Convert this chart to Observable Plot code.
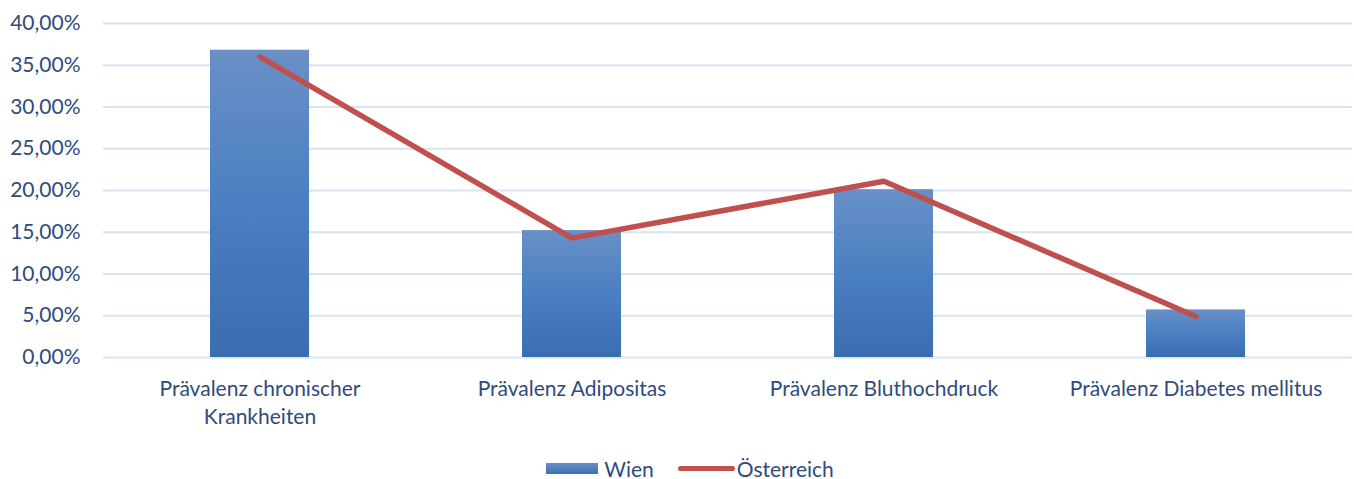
<!DOCTYPE html>
<html>
<head>
<meta charset="utf-8">
<script src="https://cdn.jsdelivr.net/npm/d3@7"></script>
<script src="https://cdn.jsdelivr.net/npm/@observablehq/plot@0.6"></script>
<style>
  html, body { margin: 0; padding: 0; background: #fff; overflow: hidden; }
  #chart { width: 1354px; }
  .legend { display: flex; justify-content: center; align-items: center; height: 21px; line-height: 21px;
    font-family: Lato, "Open Sans", sans-serif; font-size: 21px; color: #2f4b7c; padding-left: 26px; margin-top: 26px; }
  .legend .item { display: flex; align-items: center; }
  .sw-bar { width: 52px; height: 11px; background: linear-gradient(#6890c6, #3d70b3); margin-right: 6px; }
  .sw-line { width: 57px; height: 5px; background: #c0504d; border-radius: 3px; margin-right: 2px; margin-left: 24px; }
</style>
</head>
<body>
<div id="chart"></div>
<script>
const categories = ["Prävalenz chronischer Krankheiten", "Prävalenz Adipositas", "Prävalenz Bluthochdruck", "Prävalenz Diabetes mellitus"];
const categoryLabels = ["Prävalenz chronischer\nKrankheiten", "Prävalenz Adipositas", "Prävalenz Bluthochdruck", "Prävalenz Diabetes mellitus"];
const wien = [0.368, 0.152, 0.201, 0.057];
const oesterreich = [0.360, 0.143, 0.211, 0.049];
const yTicks = [0, 0.05, 0.10, 0.15, 0.20, 0.25, 0.30, 0.35, 0.40];

const de = d3.formatLocale({decimal: ",", thousands: ".", grouping: [3], currency: ["", " €"]});
const pct = de.format(".2%");

const data = categories.map((c, i) => ({category: c, label: categoryLabels[i], wien: wien[i], oe: oesterreich[i]}));
const labelOf = new Map(categories.map((c, i) => [c, categoryLabels[i]]));

const textColor = "#2f4b7c";
const plot = Plot.plot({
  width: 1354,
  height: 432,
  marginLeft: 103,
  marginRight: 2,
  marginTop: 23,
  marginBottom: 75,
  style: {fontFamily: "Lato, 'Open Sans', sans-serif", fontSize: "21px", color: textColor, background: "#fff"},
  x: {domain: categories, paddingInner: 0.683, paddingOuter: 0.34, label: null},
  y: {domain: [0, 0.40], label: null},
  marks: [
    Plot.gridY(yTicks, {stroke: "#d9e3f2", strokeOpacity: 1, strokeWidth: 2}),
    Plot.axisY(yTicks, {tickSize: 0, tickPadding: 23, tickFormat: pct, label: null, fill: textColor}),
    Plot.axisX({tickSize: 0, tickPadding: 19, tickFormat: d => labelOf.get(d), label: null, lineHeight: 1.33, fill: textColor}),
    Plot.barY(data, {x: "category", y: "wien", fill: "url(#wienGrad)"}),
    Plot.line(data, {x: "category", y: "oe", stroke: "#c0504d", strokeWidth: 5.5, strokeLinecap: "round", strokeLinejoin: "round"})
  ]
});

const ns = "http://www.w3.org/2000/svg";
const defs = document.createElementNS(ns, "defs");
defs.innerHTML = `<linearGradient id="wienGrad" x1="0" y1="0" x2="0" y2="1">
  <stop offset="0" stop-color="#6990c7"/><stop offset="0.5" stop-color="#4a7fc1"/><stop offset="1" stop-color="#3a6db2"/></linearGradient>`;
plot.insertBefore(defs, plot.firstChild);

document.getElementById("chart").appendChild(plot);

const legend = document.createElement("div");
legend.className = "legend";
legend.innerHTML = `<div class="item"><div class="sw-bar"></div><span>Wien</span></div>
<div class="item"><div class="sw-line"></div><span>Österreich</span></div>`;
document.getElementById("chart").appendChild(legend);
</script>
</body>
</html>
